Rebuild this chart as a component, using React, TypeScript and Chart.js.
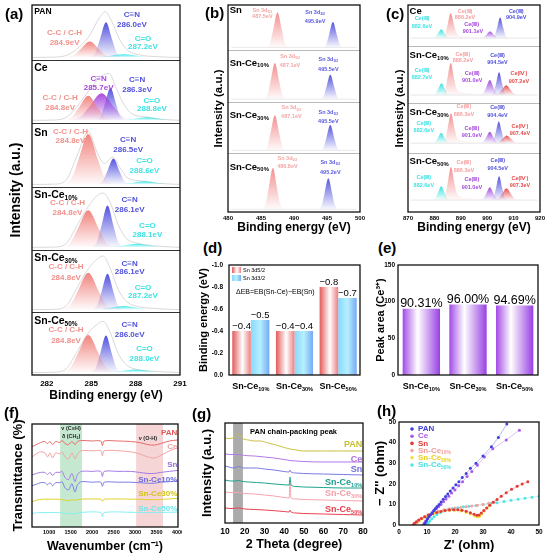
import { useEffect, useRef } from 'react';
import { Chart, registerables } from 'chart.js';

Chart.register(...registerables);

const F = "'Liberation Sans', Arial, Helvetica, sans-serif";

type P = number[][];
type Note = [string, number, number, string];

// ---------- (a) C 1s XPS ----------
const aNames = ['PAN', 'Ce', 'Sn', 'Sn-Ce_{10%}', 'Sn-Ce_{30%}', 'Sn-Ce_{50%}'];
const aTicks = [282, 285, 288, 291];
const aCC: P[] = [
  [[283.25, 0], [283.8, 0.035], [284.25, 0.13], [284.9, 0.26], [285.55, 0.13], [286.0, 0.035], [286.55, 0]],
  [[283.15, 0], [283.7, 0.054], [284.15, 0.2], [284.8, 0.4], [285.45, 0.2], [285.9, 0.054], [286.45, 0]],
  [[283.15, 0], [283.7, 0.11], [284.15, 0.41], [284.8, 0.82], [285.45, 0.41], [285.9, 0.11], [286.45, 0]],
  [[283.0, 0], [283.6, 0.08], [284.09, 0.3], [284.8, 0.6], [285.51, 0.3], [286.0, 0.08], [286.6, 0]],
  [[283.0, 0], [283.6, 0.08], [284.09, 0.3], [284.8, 0.6], [285.51, 0.3], [286.0, 0.08], [286.6, 0]],
  [[283.0, 0], [283.6, 0.082], [284.09, 0.305], [284.8, 0.61], [285.51, 0.305], [286.0, 0.082], [286.6, 0]],
];
const aCN: P[] = [
  [[284.92, 0], [285.28, 0.077], [285.58, 0.285], [286.0, 0.57], [286.42, 0.285], [286.72, 0.077], [287.08, 0]],
  [[285.34, 0], [285.66, 0.072], [285.92, 0.265], [286.3, 0.53], [286.68, 0.265], [286.94, 0.072], [287.26, 0]],
  [[285.42, 0], [285.78, 0.057], [286.08, 0.21], [286.5, 0.42], [286.92, 0.21], [287.22, 0.057], [287.58, 0]],
  [[285.02, 0], [285.38, 0.092], [285.68, 0.34], [286.1, 0.68], [286.52, 0.34], [286.82, 0.092], [287.18, 0]],
  [[285.08, 0], [285.42, 0.078], [285.7, 0.29], [286.1, 0.58], [286.5, 0.29], [286.78, 0.078], [287.12, 0]],
  [[284.98, 0], [285.32, 0.081], [285.6, 0.3], [286.0, 0.6], [286.4, 0.3], [286.68, 0.081], [287.02, 0]],
];
const aCNce: P = [[283.6, 0], [284.3, 0.06], [284.87, 0.22], [285.7, 0.44], [286.53, 0.22], [287.1, 0.06], [287.8, 0]];
const aCO: P[] = [
  [[284.8, 0], [285.6, 0.007], [286.25, 0.025], [287.2, 0.05], [288.15, 0.025], [288.8, 0.007], [289.6, 0]],
  [[286.7, 0], [287.4, 0.007], [287.97, 0.025], [288.8, 0.05], [289.63, 0.025], [290.2, 0.007], [290.9, 0]],
  [[286.5, 0], [287.2, 0.007], [287.77, 0.025], [288.6, 0.05], [289.43, 0.025], [290.0, 0.007], [290.7, 0]],
  [[285.85, 0], [286.6, 0.008], [287.2, 0.03], [288.1, 0.06], [289.0, 0.03], [289.6, 0.008], [290.35, 0]],
  [[284.8, 0], [285.6, 0.008], [286.25, 0.03], [287.2, 0.06], [288.15, 0.03], [288.8, 0.008], [289.6, 0]],
  [[285.75, 0], [286.5, 0.007], [287.1, 0.025], [288.0, 0.05], [288.9, 0.025], [289.5, 0.007], [290.25, 0]],
];
const aEnv: P[] = [
  [[281, 0], [282.5, 0.005], [283.4, 0.04], [284.2, 0.17], [284.9, 0.36], [285.5, 0.62], [285.95, 0.74], [286.4, 0.58], [286.9, 0.3], [287.5, 0.11], [288.3, 0.04], [289.3, 0.013], [291, 0]],
  [[281, 0], [282.5, 0.005], [283.4, 0.06], [284.2, 0.27], [284.9, 0.5], [285.6, 0.7], [286.2, 0.76], [286.7, 0.52], [287.2, 0.26], [287.8, 0.1], [288.7, 0.055], [289.6, 0.02], [291, 0]],
  [[281, 0], [282.5, 0.005], [283.3, 0.07], [284.1, 0.5], [284.8, 0.86], [285.4, 0.52], [285.9, 0.34], [286.45, 0.44], [286.95, 0.27], [287.5, 0.1], [288.5, 0.055], [289.5, 0.02], [291, 0]],
  [[281, 0], [282.5, 0.005], [283.3, 0.06], [284.1, 0.38], [284.8, 0.66], [285.4, 0.84], [285.8, 0.88], [286.3, 0.72], [286.8, 0.38], [287.4, 0.14], [288.1, 0.07], [289.2, 0.025], [291, 0]],
  [[281, 0], [282.5, 0.005], [283.3, 0.06], [284.1, 0.38], [284.8, 0.66], [285.4, 0.82], [285.8, 0.87], [286.3, 0.66], [286.8, 0.34], [287.4, 0.13], [288.2, 0.05], [289.2, 0.02], [291, 0]],
  [[281, 0], [282.5, 0.005], [283.3, 0.06], [284.1, 0.36], [284.8, 0.64], [285.4, 0.78], [285.8, 0.83], [286.3, 0.64], [286.8, 0.32], [287.4, 0.12], [288.1, 0.05], [289.2, 0.02], [291, 0]],
];
const aNotes: Note[][] = [
  [['C≡N', 287.75, 0.73, 'b'], ['286.0eV', 287.75, 0.57, 'b'], ['C-C / C-H', 283.2, 0.44, 'r'], ['284.9eV', 283.2, 0.27, 'r'], ['C=O', 288.5, 0.35, 'c'], ['287.2eV', 288.5, 0.21, 'c']],
  [['C≡N', 285.5, 0.72, 'p'], ['285.7eV', 285.5, 0.57, 'p'], ['C≡N', 288.1, 0.7, 'b'], ['286.3eV', 288.1, 0.54, 'b'], ['C-C / C-H', 282.9, 0.41, 'r'], ['284.8eV', 282.9, 0.25, 'r'], ['C=O', 289.1, 0.36, 'c'], ['288.8eV', 289.1, 0.22, 'c']],
  [['C-C / C-H', 283.6, 0.89, 'r'], ['284.8eV', 283.6, 0.74, 'r'], ['C≡N', 287.5, 0.77, 'b'], ['286.5eV', 287.5, 0.6, 'b'], ['C=O', 288.6, 0.42, 'c'], ['288.6eV', 288.6, 0.26, 'c']],
  [['C≡N', 287.6, 0.81, 'b'], ['286.1eV', 287.6, 0.65, 'b'], ['C-C / C-H', 283.4, 0.76, 'r'], ['284.8eV', 283.4, 0.6, 'r'], ['C=O', 288.8, 0.39, 'c'], ['288.1eV', 288.8, 0.24, 'c']],
  [['C≡N', 287.6, 0.79, 'b'], ['286.1eV', 287.6, 0.65, 'b'], ['C-C / C-H', 283.3, 0.73, 'r'], ['284.8eV', 283.3, 0.56, 'r'], ['C=O', 288.5, 0.4, 'c'], ['287.2eV', 288.5, 0.26, 'c']],
  [['C≡N', 287.6, 0.81, 'b'], ['286.0eV', 287.6, 0.65, 'b'], ['C-C / C-H', 283.3, 0.73, 'r'], ['284.8eV', 283.3, 0.56, 'r'], ['C=O', 288.6, 0.42, 'c'], ['288.0eV', 288.6, 0.27, 'c']],
];

// ---------- (b) Sn 3d XPS ----------
const bNames = ['Sn', 'Sn-Ce_{10%}', 'Sn-Ce_{30%}', 'Sn-Ce_{50%}'];
const bTicks = [480, 485, 490, 495, 500];
const b52: P[] = [
  [[485.85, 0], [486.4, 0.092], [486.85, 0.34], [487.5, 0.68], [488.15, 0.34], [488.6, 0.092], [489.15, 0]],
  [[485.45, 0], [486.0, 0.095], [486.45, 0.35], [487.1, 0.7], [487.75, 0.35], [488.2, 0.095], [488.75, 0]],
  [[485.45, 0], [486.0, 0.092], [486.45, 0.34], [487.1, 0.68], [487.75, 0.34], [488.2, 0.092], [488.75, 0]],
  [[485.15, 0], [485.7, 0.108], [486.15, 0.4], [486.8, 0.8], [487.45, 0.4], [487.9, 0.108], [488.45, 0]],
];
const b32: P[] = [
  [[494.4, 0], [494.9, 0.066], [495.31, 0.245], [495.9, 0.49], [496.49, 0.245], [496.9, 0.066], [497.4, 0]],
  [[494.0, 0], [494.5, 0.063], [494.91, 0.235], [495.5, 0.47], [496.09, 0.235], [496.5, 0.063], [497.0, 0]],
  [[494.0, 0], [494.5, 0.066], [494.91, 0.245], [495.5, 0.49], [496.09, 0.245], [496.5, 0.066], [497.0, 0]],
  [[493.7, 0], [494.2, 0.081], [494.61, 0.3], [495.2, 0.6], [495.79, 0.3], [496.2, 0.081], [496.7, 0]],
];
const bNotes: Note[][] = [
  [['Sn 3d_{5/2}', 485.2, 0.77, 'r'], ['487.5eV', 485.2, 0.64, 'r'], ['Sn 3d_{3/2}', 493.2, 0.73, 'b'], ['495.9eV', 493.2, 0.56, 'b']],
  [['Sn 3d_{5/2}', 489.4, 0.87, 'r'], ['487.1eV', 489.4, 0.7, 'r'], ['Sn 3d_{3/2}', 495.2, 0.81, 'b'], ['495.5eV', 495.2, 0.63, 'b']],
  [['Sn 3d_{5/2}', 489.6, 0.87, 'r'], ['487.1eV', 489.6, 0.7, 'r'], ['Sn 3d_{3/2}', 495.2, 0.79, 'b'], ['495.5eV', 495.2, 0.61, 'b']],
  [['Sn 3d_{5/2}', 489.0, 1.04, 'r'], ['486.8eV', 489.0, 0.87, 'r'], ['Sn 3d_{3/2}', 495.5, 0.95, 'b'], ['495.2eV', 495.5, 0.77, 'b']],
];

// ---------- (c) Ce 3d XPS ----------
const cNames = ['Ce', 'Sn-Ce_{10%}', 'Sn-Ce_{30%}', 'Sn-Ce_{50%}'];
const cTicks = [870, 880, 890, 900, 910, 920];
const cCyan: P[] = [
  [[879.3, 0], [880.4, 0.023], [881.3, 0.085], [882.6, 0.17], [883.9, 0.085], [884.8, 0.023], [885.9, 0]],
  [[879.4, 0], [880.5, 0.031], [881.4, 0.115], [882.7, 0.23], [884.0, 0.115], [884.9, 0.031], [886.0, 0]],
  [[879.3, 0], [880.4, 0.027], [881.3, 0.1], [882.6, 0.2], [883.9, 0.1], [884.8, 0.027], [885.9, 0]],
  [[879.3, 0], [880.4, 0.036], [881.3, 0.135], [882.6, 0.27], [883.9, 0.135], [884.8, 0.036], [885.9, 0]],
];
const cPink: P[] = [
  [[882.9, 0], [884.0, 0.065], [884.9, 0.24], [886.2, 0.48], [887.5, 0.24], [888.4, 0.096], [890.2, 0.048], [894.2, 0.024], [898.2, 0]],
  [[882.9, 0], [884.0, 0.084], [884.9, 0.31], [886.2, 0.62], [887.5, 0.31], [888.4, 0.124], [890.2, 0.062], [894.2, 0.031], [898.2, 0]],
  [[883.0, 0], [884.1, 0.078], [885.0, 0.29], [886.3, 0.58], [887.6, 0.29], [888.5, 0.116], [890.3, 0.058], [894.3, 0.029], [898.3, 0]],
  [[883.0, 0], [884.1, 0.086], [885.0, 0.32], [886.3, 0.64], [887.6, 0.32], [888.5, 0.128], [890.3, 0.064], [894.3, 0.032], [898.3, 0]],
];
const cPurple: P[] = [
  [[897.5, 0], [898.7, 0.018], [899.7, 0.065], [901.1, 0.13], [902.5, 0.065], [903.5, 0.018], [904.7, 0]],
  [[897.4, 0], [898.6, 0.039], [899.6, 0.145], [901.0, 0.29], [902.4, 0.145], [903.4, 0.039], [904.6, 0]],
  [[897.4, 0], [898.6, 0.03], [899.6, 0.11], [901.0, 0.22], [902.4, 0.11], [903.4, 0.03], [904.6, 0]],
  [[897.4, 0], [898.6, 0.034], [899.6, 0.125], [901.0, 0.25], [902.4, 0.125], [903.4, 0.034], [904.6, 0]],
];
const cBlue: P[] = [
  [[901.9, 0], [902.9, 0.054], [903.72, 0.2], [904.9, 0.4], [906.08, 0.2], [906.9, 0.054], [907.9, 0]],
  [[901.5, 0], [902.5, 0.059], [903.32, 0.22], [904.5, 0.44], [905.68, 0.22], [906.5, 0.059], [907.5, 0]],
  [[901.4, 0], [902.4, 0.057], [903.22, 0.21], [904.4, 0.42], [905.58, 0.21], [906.4, 0.057], [907.4, 0]],
  [[901.5, 0], [902.5, 0.062], [903.32, 0.23], [904.5, 0.46], [905.68, 0.23], [906.5, 0.062], [907.5, 0]],
];
const cIV: P[] = [
  [],
  [[902.7, 0], [904.2, 0.026], [905.43, 0.095], [907.2, 0.19], [908.97, 0.095], [910.2, 0.026], [911.7, 0]],
  [[902.9, 0], [904.4, 0.02], [905.63, 0.075], [907.4, 0.15], [909.17, 0.075], [910.4, 0.02], [911.9, 0]],
  [[902.8, 0], [904.3, 0.031], [905.53, 0.115], [907.3, 0.23], [909.07, 0.115], [910.3, 0.031], [911.8, 0]],
];
const cNotes: Note[][] = [
  [['Ce(Ⅲ)', 875.3, 0.53, 'c'], ['882.6eV', 875.3, 0.39, 'c'], ['Ce(Ⅲ)', 891.6, 0.68, 'r'], ['886.2eV', 891.6, 0.55, 'r'], ['Ce(Ⅲ)', 894.1, 0.42, 'p'], ['901.1eV', 894.6, 0.28, 'p'], ['Ce(Ⅲ)', 911, 0.68, 'b'], ['904.9eV', 911, 0.55, 'b']],
  [['Ce(Ⅲ)', 875.3, 0.63, 'c'], ['882.7eV', 875.3, 0.5, 'c'], ['Ce(Ⅲ)', 890.8, 0.95, 'r'], ['886.2eV', 890.8, 0.82, 'r'], ['Ce(Ⅲ)', 903.9, 0.92, 'b'], ['904.5eV', 903.9, 0.78, 'b'], ['Ce(Ⅲ)', 894.3, 0.58, 'p'], ['901.0eV', 894.3, 0.44, 'p'], ['Ce(Ⅳ)', 912, 0.57, 'e'], ['907.2eV', 912, 0.43, 'e']],
  [['Ce(Ⅲ)', 876, 0.58, 'c'], ['882.6eV', 876, 0.44, 'c'], ['Ce(Ⅲ)', 891.2, 0.89, 'r'], ['886.3eV', 891.2, 0.75, 'r'], ['Ce(Ⅲ)', 903.9, 0.87, 'b'], ['904.4eV', 903.9, 0.73, 'b'], ['Ce(Ⅲ)', 894.2, 0.48, 'p'], ['901.0eV', 894.2, 0.34, 'p'], ['Ce(Ⅳ)', 912.4, 0.52, 'e'], ['907.4eV', 912.4, 0.38, 'e']],
  [['Ce(Ⅲ)', 876, 0.66, 'c'], ['882.6eV', 876, 0.52, 'c'], ['Ce(Ⅲ)', 891.2, 0.95, 'r'], ['886.3eV', 891.2, 0.81, 'r'], ['Ce(Ⅲ)', 904, 0.99, 'b'], ['904.5eV', 904, 0.85, 'b'], ['Ce(Ⅲ)', 894.2, 0.62, 'p'], ['901.0eV', 894.2, 0.48, 'p'], ['Ce(Ⅳ)', 912.4, 0.65, 'e'], ['907.3eV', 912.4, 0.51, 'e']],
];

// ---------- (d) binding energy shift, (e) Ce3+ peak area ----------
const dCats = ['Sn-Ce_{10%}', 'Sn-Ce_{30%}', 'Sn-Ce_{50%}'];
const d52 = [-0.4, -0.4, -0.8];
const d32 = [-0.5, -0.4, -0.7];
const dTicks = [-1.0, -0.8, -0.6, -0.4, -0.2, 0.0];
const eArea = [90.31, 96.0, 94.69];
const eTicks = [0, 50, 100, 150];

// ---------- (f) FTIR ----------
const fNames = ['PAN', 'Ce', 'Sn', 'Sn-Ce10%', 'Sn-Ce30%', 'Sn-Ce50%'];
const fTicks = [1000, 1500, 2000, 2500, 3000, 3500, 4000];
const fPAN: P = [[600, 78], [700, 80], [800, 82], [900, 83], [960, 81], [1020, 83], [1080, 80], [1150, 83], [1250, 82], [1300, 84], [1370, 81], [1450, 80], [1530, 83], [1600, 80], [1660, 83], [1750, 84], [2000, 83.5], [2200, 83.5], [2240, 79], [2280, 83.5], [2600, 83.5], [2900, 83], [3100, 82], [3300, 80], [3450, 79.5], [3600, 81], [3800, 83.5], [4000, 84.5]];
const fCe: P = [[600, 68], [700, 71], [800, 73], [900, 72], [960, 68], [1020, 72], [1080, 67], [1150, 72], [1250, 71], [1300, 73], [1370, 68], [1450, 66], [1530, 72], [1600, 66], [1660, 71], [1750, 74], [2000, 74], [2200, 74], [2240, 69], [2280, 74], [2600, 74], [2900, 73], [3100, 71], [3300, 68], [3450, 67], [3600, 69.5], [3800, 74], [4000, 77]];
const fSn: P = [[600, 50.5], [700, 52], [800, 53], [900, 53], [960, 51], [1020, 53], [1080, 50], [1150, 53], [1250, 53], [1300, 54], [1370, 48], [1450, 46], [1530, 52], [1600, 44], [1660, 51], [1750, 54], [2000, 54], [2200, 54], [2240, 49], [2280, 54], [2600, 54], [2900, 54], [3100, 53], [3300, 52], [3450, 52], [3600, 53], [3800, 54], [4000, 55]];
const fSnCe10: P = [[600, 40], [700, 41.5], [800, 43], [900, 43], [960, 41], [1020, 43], [1080, 40], [1150, 43], [1250, 43], [1300, 44], [1370, 38], [1450, 36], [1530, 42], [1600, 34], [1660, 41], [1750, 44], [2000, 43.5], [2200, 43.5], [2240, 39.5], [2280, 43.5], [2600, 43.5], [2900, 43.5], [3100, 43], [3300, 42.5], [3450, 42.5], [3600, 43.5], [3800, 44], [4000, 44.6]];
const fSnCe30: P = [[600, 24.6], [700, 26], [850, 27], [1000, 27], [1200, 27], [1370, 26], [1450, 25.5], [1530, 26.5], [1600, 26], [1750, 27], [2200, 27], [2240, 25], [2280, 27], [3000, 27], [3400, 26.5], [4000, 27.8]];
const fSnCe50: P = [[600, 13.3], [800, 14], [1000, 14], [1200, 14], [1450, 13], [1600, 13], [1750, 14.2], [2200, 14.2], [2240, 10], [2280, 14.2], [3000, 14.2], [3400, 14], [4000, 14.5]];
const fSeries = [fPAN, fCe, fSn, fSnCe10, fSnCe30, fSnCe50];
const fLabelY = [91, 78, 60, 46, 32, 18];

// ---------- (g) XRD ----------
const gNames = ['PAN', 'Ce', 'Sn', 'Sn-Ce_{10%}', 'Sn-Ce_{30%}', 'Sn-Ce_{50%}'];
const gTicks = [10, 20, 30, 40, 50, 60, 70, 80];
const gPAN: P = [[10, 85], [12, 84.5], [14, 85], [15.5, 87], [16.8, 89], [18, 87], [19.5, 84], [22, 83], [25, 82], [28, 82], [32, 80], [36, 78], [40, 75.5], [43, 74], [46, 73], [50, 72], [60, 72], [70, 72], [80, 72]];
const gCe: P = [[10, 69], [13, 68.5], [17, 68.5], [20, 67.5], [25, 67], [30, 66], [35, 65], [40, 63.5], [43, 62.5], [46, 62], [50, 61.5], [60, 61], [70, 61], [80, 61]];
const gSn: P = [[10, 57], [12, 56], [14, 55], [16, 56], [17.5, 56.5], [19, 55], [22, 55], [26, 55], [30, 54], [35, 53], [40, 51.5], [42.5, 51], [43, 53], [43.5, 51], [46, 50], [50, 49.5], [60, 49], [70, 48.5], [80, 48]];
const gSnCe10: P = [[10, 43], [13, 42], [15, 42], [17, 42.5], [19, 41.5], [22, 41], [26, 40.5], [30, 40], [35, 39], [40, 38.2], [42.5, 38], [43, 46], [43.5, 38], [46, 36.5], [50, 36], [60, 35.5], [70, 35], [80, 35]];
const gSnCe30: P = [[10, 31], [13, 30.5], [17, 30.5], [20, 29.5], [25, 29], [30, 28], [35, 27], [40, 25.5], [42.5, 25], [43, 42], [43.5, 25], [46, 24], [50, 23.5], [60, 23], [70, 22.5], [80, 22]];
const gSnCe50: P = [[10, 15], [13, 14.5], [17, 15], [20, 14], [25, 13.5], [30, 13], [35, 12.3], [40, 11.5], [42.5, 11], [43, 13], [43.5, 11], [46, 10], [50, 9.5], [60, 9], [70, 8.5], [80, 8]];
const gSeries = [gPAN, gCe, gSn, gSnCe10, gSnCe30, gSnCe50];
const gLabelY = [78, 63.7, 53, 40.7, 29.7, 13];

// ---------- (h) EIS Nyquist ----------
const hNames = ['PAN', 'Ce', 'Sn', 'Sn-Ce_{10%}', 'Sn-Ce_{30%}', 'Sn-Ce_{50%}'];
const hTicks = [0, 10, 20, 30, 40, 50];
const hPAN: P = [[9, 0], [9.4, 1], [9.8, 2], [10.2, 3], [10.7, 4], [11.2, 5], [11.8, 6], [12.4, 7], [13, 8], [13.6, 9], [14.3, 10], [15, 11.2], [15.8, 12.5], [16.6, 13.8], [17.4, 15], [18.3, 16.5], [19.3, 18], [20.3, 19.5], [21.4, 21], [22.6, 23], [24, 25], [25.5, 27.5], [27.5, 30], [30, 33.5], [33, 38], [35.5, 42.5], [38.5, 49]];
const hCe: P = [[8.5, 0], [9, 1], [9.5, 2], [10.1, 3], [10.7, 4], [11.3, 5], [12, 6], [12.7, 7], [13.4, 8], [14.2, 9], [15, 10], [15.9, 11.3], [16.8, 12.6], [17.8, 14], [18.8, 15.5], [20, 17], [21.3, 19], [22.7, 21], [24.3, 23.5], [26, 26], [28, 29], [30.5, 33], [33.5, 37], [38.3, 41.3], [43, 46]];
const hSn: P = [[5, 0], [5.5, 0.8], [6.2, 1.6], [7, 2.4], [8, 3.2], [9.2, 4], [10.5, 4.8], [12, 5.5], [13.5, 6.1], [15, 6.6], [16.5, 7], [18, 7.3], [19.5, 7.4], [21, 7.4], [22.5, 7.2], [24, 6.7], [25.5, 6], [26.8, 5.2], [27.8, 4.7], [28.6, 4.8], [29.4, 5.8], [30.3, 7], [31.3, 8.3], [32.4, 9.6], [33.6, 11], [35, 12.4], [36.5, 13.9], [38.3, 15.6], [40.2, 17.3], [42.2, 18.8], [44, 19.9], [46, 21]];
const hSnCe10: P = [[5.5, 0], [6, 1], [6.8, 2], [7.8, 3], [9, 4], [10.4, 5], [12, 5.9], [14, 6.8], [16, 7.4], [18, 7.9], [20, 8.2], [22, 8.5], [24, 8.8], [26, 9.2], [28, 9.6], [30, 10], [32, 10.5], [34, 11]];
const hSnCe30: P = [[6, 0], [6.5, 1], [7.3, 2], [8.3, 3], [9.6, 4], [11, 5], [12.6, 5.8], [14.3, 6.4], [16, 6.9], [18, 7.1], [20, 7.1], [22, 6.8], [24, 6.1], [25.5, 5.3], [27, 4.4], [28, 3.9], [28.8, 4.2], [29.6, 5.3], [30.5, 6.8], [31.5, 8.3], [32.5, 9.6]];
const hSnCe50: P = [[10, 0], [10.5, 1], [11, 2], [11.7, 3], [12.5, 4], [13.5, 5], [14.7, 6], [16, 6.8], [17.5, 7.5], [19, 8], [21, 8.4], [23, 8.8], [25, 9.1], [27.5, 9.5], [30, 9.9], [32.5, 10.3], [35, 10.8], [37.5, 11.4], [40, 12], [42.5, 12.5], [45, 13], [47.5, 13.5], [50, 14]];
const hSeries = [hPAN, hCe, hSn, hSnCe10, hSnCe30, hSnCe50];

// ---------- styling / layout ----------
const NC: Record<string, string> = { r: '#f2918b', b: '#5050dc', c: '#3ee2e2', p: '#a648dc', e: '#e84b4b' };
const aRows = [5.11, 4.09, 3.05, 2.03, 1.02, 0];
const bRows = [3.13, 2.13, 1.14, 0];
const cRows = [3.2, 2.1, 1.14, 0];
const cLift = [0.16, 0.16, 0.19, 0.23];
const bNameY = [0.77, 0.75, 0.73, 0.87];
const cNameY = [0.67, 0.93, 0.79, 0.97];
const fLine = ['#e86a6a', '#f2a3a3', '#a47ae6', '#7b7be6', '#e0d12a', '#86eef0'];
const fText = ['#e05a5a', '#f0a0a0', '#9b6de0', '#6b6be0', '#d4c21c', '#6ee8ec'];
const gLine = ['#c8c040', '#b478e8', '#7a7ae6', '#1fa38e', '#f5a5ad', '#e8404f'];
const gText = ['#c8c030', '#b070e0', '#6e6ee0', '#20a090', '#f4a0a8', '#e84050'];
const hCol = ['#3f3fdc', '#a95ae6', '#e23a36', '#f5a3a3', '#f3df3c', '#52e6e6'];
const hText = ['#3f3fdc', '#a95ae6', '#e23a36', '#f29a9a', '#e8cf1c', '#45e0e0'];

function rgba(hex: string, a: number) {
  const n = parseInt(hex.slice(1), 16);
  return `rgba(${n >> 16},${(n >> 8) & 255},${n & 255},${a})`;
}

const ok = (...v: number[]) => v.every((n) => Number.isFinite(n));

// text with _{sub} and ^{sup} parts
function rich(ctx: CanvasRenderingContext2D, str: string, x: number, y: number, size: number, color: string, align = 'center', weight = 'bold') {
  if (!ok(x, y)) return;
  const parts: [string, number][] = [];
  const re = /([_^])\{([^}]*)\}/g;
  let last = 0;
  let m: RegExpExecArray | null;
  while ((m = re.exec(str))) {
    if (m.index > last) parts.push([str.slice(last, m.index), 0]);
    parts.push([m[2], m[1] === '_' ? 1 : 2]);
    last = re.lastIndex;
  }
  if (last < str.length) parts.push([str.slice(last), 0]);
  ctx.save();
  ctx.fillStyle = color;
  ctx.textBaseline = 'middle';
  ctx.textAlign = 'left';
  const fnt = (k: number) => `${weight} ${k ? size * 0.62 : size}px ${F}`;
  const ws = parts.map(([t, k]) => { ctx.font = fnt(k); return ctx.measureText(t).width; });
  const total = ws.reduce((s, w) => s + w, 0);
  let cx = align === 'left' ? x : align === 'right' ? x - total : x - total / 2;
  parts.forEach(([t, k], i) => {
    ctx.font = fnt(k);
    ctx.fillText(t, cx, y + (k === 1 ? size * 0.3 : k === 2 ? -size * 0.32 : 0));
    cx += ws[i];
  });
  ctx.restore();
}

function vgrad(hex: string) {
  return (c: any) => {
    const ys = c.chart && c.chart.scales ? c.chart.scales.y : null;
    const ds = c.dataset;
    if (!ys || !c.chart.chartArea || !ds) return rgba(hex, 0.5);
    const y0 = ys.getPixelForValue(ds.top);
    const y1 = ys.getPixelForValue(ds.base);
    if (!ok(y0, y1) || y0 === y1) return rgba(hex, 0.5);
    const g = c.chart.ctx.createLinearGradient(0, y0, 0, y1);
    g.addColorStop(0, rgba(hex, 0.95));
    g.addColorStop(1, rgba(hex, 0.03));
    return g;
  };
}

function hgrad(stops: [number, string][], cat: number, bar: number) {
  return (c: any) => {
    const chart = c.chart;
    const xs = chart && chart.scales ? chart.scales.x : null;
    if (!xs || c.dataIndex == null || !chart.chartArea) return stops[0][1];
    const n = chart.data.datasets.length;
    const size = (xs.width / chart.data.labels.length) * cat;
    const chunk = size / n;
    const w = chunk * bar;
    const mid = xs.getPixelForValue(c.dataIndex) - size / 2 + chunk * c.datasetIndex + chunk / 2;
    if (!ok(mid, w) || w <= 0) return stops[0][1];
    const g = chart.ctx.createLinearGradient(mid - w / 2, 0, mid + w / 2, 0);
    stops.forEach(([o, col]) => g.addColorStop(o, col));
    return g;
  };
}

const pts = (p: P, base = 0) => p.map(([x, y]) => ({ x, y: y + base }));

function peakDs(p: P, base: number, hex: string) {
  return {
    data: pts(p, base),
    top: base + Math.max(0, ...p.map((q) => q[1])),
    base,
    fill: { value: base },
    backgroundColor: vgrad(hex),
    borderColor: 'rgba(0,0,0,0)',
    borderWidth: 0,
    pointRadius: 0,
    pointBackgroundColor: 'rgba(0,0,0,0)',
    pointBorderColor: 'rgba(0,0,0,0)',
    cubicInterpolationMode: 'monotone',
  };
}

function lineDs(p: P, base: number, color: string, width: number) {
  return { data: pts(p, base), fill: false, borderColor: color, borderWidth: width, pointRadius: 0, cubicInterpolationMode: 'monotone' };
}

function xLin(min: number, max: number, ticks: number[], fit: number, kSize: number, kPad: number, title: string, tSize: number, tPad: number) {
  return {
    type: 'linear', min, max,
    afterFit: (s: any) => { s.height = fit; s.paddingLeft = 0; s.paddingRight = 0; },
    afterBuildTicks: (s: any) => { s.ticks = ticks.map((value) => ({ value })); },
    grid: { display: false, drawTicks: false },
    border: { display: false },
    ticks: { display: ticks.length > 0, autoSkip: false, maxRotation: 0, padding: kPad, color: '#000', font: { family: F, size: kSize, weight: 'bold' }, callback: (v: any) => String(v) },
    title: { display: !!title, text: title, color: '#000', font: { family: F, size: tSize, weight: 'bold' }, padding: { top: 0, bottom: tPad } },
  };
}

function yLin(min: number, max: number, ticks: number[], fit: number, kSize: number, kPad: number, title: string, tSize: number, tPad: number, fmt = (v: number) => String(v), extra: any = {}) {
  return {
    type: 'linear', min, max, ...extra,
    afterFit: (s: any) => { s.width = fit; s.paddingTop = 0; s.paddingBottom = 0; },
    afterBuildTicks: (s: any) => { s.ticks = ticks.map((value) => ({ value })); },
    grid: { display: false, drawTicks: false },
    border: { display: false },
    ticks: { display: ticks.length > 0, autoSkip: false, padding: kPad, color: '#000', font: { family: F, size: kSize, weight: 'bold' }, callback: (v: any) => fmt(Number(v)) },
    title: { display: !!title, text: title, color: '#000', font: { family: F, size: tSize, weight: 'bold' }, padding: { top: tPad, bottom: 0 } },
  };
}

function xCat(fit: number) {
  return {
    type: 'category',
    afterFit: (s: any) => { s.height = fit; s.paddingLeft = 0; s.paddingRight = 0; },
    grid: { display: false, drawTicks: false },
    border: { display: false },
    ticks: { display: false },
  };
}

function opts(top: number, right: number, scales: any) {
  return {
    animation: false, responsive: true, maintainAspectRatio: false, events: [],
    layout: { padding: { top, right, bottom: 0, left: 0 } },
    plugins: { legend: { display: false }, tooltip: { enabled: false } },
    scales,
  };
}

function deco(before: ((c: any) => void) | null, after: ((c: any) => void) | null) {
  return {
    id: 'deco',
    beforeDatasetsDraw: (c: any) => { if (before) before(c); },
    afterDatasetsDraw: (c: any) => { if (after) after(c); },
  };
}

function drawFrame(c: any, seps: number[] = [], sepColor = '#333', sepW = 1) {
  const { ctx, chartArea: a, scales } = c;
  ctx.save();
  ctx.strokeStyle = sepColor;
  ctx.lineWidth = sepW;
  seps.forEach((v) => {
    const y = Math.round(scales.y.getPixelForValue(v)) + 0.5;
    ctx.beginPath();
    ctx.moveTo(a.left, y);
    ctx.lineTo(a.right, y);
    ctx.stroke();
  });
  ctx.strokeStyle = '#111';
  ctx.lineWidth = 1.3;
  ctx.strokeRect(a.left, a.top, a.right - a.left, a.bottom - a.top);
  ctx.restore();
}

// ---------- panel builders ----------
function makeA() {
  const ds: any[] = [];
  aNames.forEach((_, i) => {
    const b = aRows[i] + 0.04;
    ds.push(peakDs(aCC[i], b, '#f07d78'));
    if (i === 1) ds.push(peakDs(aCNce, b, '#a43fdd'));
    ds.push(peakDs(aCN[i], b, '#4848dc'));
    ds.push(peakDs(aCO[i], b, '#2ee6e6'));
    ds.push(lineDs(aEnv[i], b, '#cfcfcf', 0.8));
  });
  return {
    type: 'line',
    data: { datasets: ds },
    options: opts(5, 10, {
      x: xLin(281, 291, aTicks, 31, 8, 4, 'Binding energy (eV)', 12, 2.8),
      y: yLin(0, 6, [], 32, 8, 0, 'Intensity (a.u.)', 14, 7.6),
    }),
    plugins: [deco(null, (c) => {
      const xs = c.scales.x;
      const ys = c.scales.y;
      aNames.forEach((n, i) => {
        rich(c.ctx, n, xs.getPixelForValue(281.15), ys.getPixelForValue(aRows[i] + (i === 0 ? 0.78 : 0.88)), i === 0 ? 8.5 : 10.5, '#000', 'left');
        aNotes[i].forEach(([t, x, y, k]) => rich(c.ctx, t, xs.getPixelForValue(x), ys.getPixelForValue(aRows[i] + y), 8, NC[k]));
      });
      drawFrame(c, aRows.slice(0, 5), '#333', 1);
    })],
  };
}

function makeB() {
  const ds: any[] = [];
  bNames.forEach((_, i) => {
    const b = bRows[i] + 0.05;
    ds.push(lineDs([[480.5, 0], [499.5, 0]], b, '#e4e4e4', 0.8));
    ds.push(peakDs(b52[i], b, '#f28a8a'));
    ds.push(peakDs(b32[i], b, '#4e4edc'));
  });
  return {
    type: 'line',
    data: { datasets: ds },
    options: opts(5, 5, {
      x: xLin(480, 500, bTicks, 26, 6, 3, 'Binding energy (eV)', 12, 2.8),
      y: yLin(0, 4, [], 23, 8, 0, 'Intensity (a.u.)', 11.5, 7),
    }),
    plugins: [deco(null, (c) => {
      const xs = c.scales.x;
      const ys = c.scales.y;
      bNames.forEach((n, i) => {
        rich(c.ctx, n, xs.getPixelForValue(480.25), ys.getPixelForValue(bRows[i] + bNameY[i]), 9.5, '#000', 'left');
        bNotes[i].forEach(([t, x, y, k]) => rich(c.ctx, t, xs.getPixelForValue(x), ys.getPixelForValue(bRows[i] + y), 5.5, k === 'r' ? '#f4a6a6' : '#5a5ae0'));
      });
      drawFrame(c, bRows.slice(0, 3), '#a8a8a8', 0.8);
    })],
  };
}

function makeC() {
  const ds: any[] = [];
  cNames.forEach((_, i) => {
    const b = cRows[i] + cLift[i];
    ds.push(lineDs([[871, 0], [919, 0]], b, '#e0e0e0', 0.8));
    ds.push(peakDs(cPink[i], b, '#f28a8a'));
    ds.push(peakDs(cCyan[i], b, '#30e0e0'));
    ds.push(peakDs(cPurple[i], b, '#9d45dc'));
    ds.push(peakDs(cBlue[i], b, '#4a4ad8'));
    if (cIV[i].length) ds.push(peakDs(cIV[i], b, '#e84848'));
  });
  return {
    type: 'line',
    data: { datasets: ds },
    options: opts(5, 10, {
      x: xLin(870, 920, cTicks, 26, 6, 3, 'Binding energy (eV)', 12, 2.8),
      y: yLin(0, 4, [], 26, 8, 0, 'Intensity (a.u.)', 11.5, 11),
    }),
    plugins: [deco(null, (c) => {
      const xs = c.scales.x;
      const ys = c.scales.y;
      cNames.forEach((n, i) => {
        rich(c.ctx, n, xs.getPixelForValue(870.6), ys.getPixelForValue(cRows[i] + cNameY[i]), 9.5, '#000', 'left');
        cNotes[i].forEach(([t, x, y, k]) => rich(c.ctx, t, xs.getPixelForValue(x), ys.getPixelForValue(cRows[i] + y), 5.5, k === 'r' ? '#f4a0a0' : NC[k]));
      });
      drawFrame(c, cRows.slice(0, 3), '#a8a8a8', 0.8);
    })],
  };
}

const RED_BAR: [number, string][] = [[0, '#e25a5a'], [0.55, '#ffffff'], [1, '#ee8080']];
const BLUE_BAR: [number, string][] = [[0, '#88d8ff'], [0.5, '#b6f0ff'], [1, '#76aaf4']];
const PURPLE_BAR: [number, string][] = [[0, '#a24ae6'], [0.4, '#ffffff'], [1, '#9840e2']];

function catLabels(c: any, cats: string[]) {
  const xs = c.scales.x;
  cats.forEach((t, i) => rich(c.ctx, t, xs.getPixelForValue(i), c.chartArea.bottom + 12, 9, '#000'));
}

function makeD() {
  return {
    type: 'bar',
    data: {
      labels: dCats,
      datasets: [
        { data: d52, backgroundColor: hgrad(RED_BAR, 0.85, 1), borderWidth: 0, categoryPercentage: 0.85, barPercentage: 1 },
        { data: d32, backgroundColor: hgrad(BLUE_BAR, 0.85, 1), borderWidth: 0, categoryPercentage: 0.85, barPercentage: 1 },
      ],
    },
    options: opts(7, 5, {
      x: xCat(20),
      y: yLin(-1, 0, dTicks, 39, 6.5, 6, 'Binding energy (eV)', 11, 6.9, (v) => v.toFixed(1), { reverse: true }),
    }),
    plugins: [deco(null, (c) => {
      const { ctx, chartArea: a } = c;
      [d52, d32].forEach((vals, di) => {
        c.getDatasetMeta(di).data.forEach((el: any, i: number) => {
          ctx.save();
          ctx.font = `9.5px ${F}`;
          ctx.fillStyle = '#000';
          ctx.textAlign = 'center';
          ctx.textBaseline = 'bottom';
          ctx.fillText('−' + Math.abs(vals[i]).toFixed(1), el.x, el.y);
          ctx.restore();
        });
      });
      catLabels(c, dCats);
      [['Sn 3d5/2', RED_BAR], ['Sn 3d3/2', BLUE_BAR]].forEach(([t, st]: any, i) => {
        const y = a.top + 5 + i * 8;
        const g = ctx.createLinearGradient(a.left + 3, 0, a.left + 12, 0);
        st.forEach(([o, col]: any) => g.addColorStop(o, col));
        ctx.fillStyle = g;
        ctx.fillRect(a.left + 3, y - 3, 9, 6);
        rich(ctx, t, a.left + 14, y, 5.5, '#000', 'left', 'normal');
      });
      rich(ctx, 'ΔEB=EB(Sn-Ce)−EB(Sn)', a.left + 7, c.scales.y.getPixelForValue(-0.75), 7, '#000', 'left', 'normal');
      drawFrame(c);
    })],
  };
}

function makeE() {
  return {
    type: 'bar',
    data: {
      labels: dCats,
      datasets: [{ data: eArea, backgroundColor: hgrad(PURPLE_BAR, 1, 0.8), borderWidth: 0, categoryPercentage: 1, barPercentage: 0.8 }],
    },
    options: opts(7, 12, {
      x: xCat(20),
      y: yLin(0, 150, eTicks, 30, 6.5, 3, 'Peak area (Ce³⁺)', 11, 6.4),
    }),
    plugins: [deco(null, (c) => {
      const { ctx } = c;
      c.getDatasetMeta(0).data.forEach((el: any, i: number) => {
        ctx.save();
        ctx.font = `12.5px ${F}`;
        ctx.fillStyle = '#000';
        ctx.textAlign = 'center';
        ctx.textBaseline = 'bottom';
        ctx.fillText(eArea[i].toFixed(2) + '%', el.x, el.y + 1);
        ctx.restore();
      });
      catLabels(c, dCats);
      drawFrame(c);
    })],
  };
}

function makeF() {
  return {
    type: 'line',
    data: { datasets: fSeries.map((s, i) => ({ ...lineDs(s, 0, fLine[i], 1), cubicInterpolationMode: 'default', tension: 0.3 })) },
    options: opts(6, 4, {
      x: xLin(600, 4000, fTicks, 29, 5.5, 2, 'Wavenumber (cm⁻¹)', 12.5, 1.5),
      y: yLin(0, 100, [], 32, 8, 0, 'Transmittance (%)', 13, 10.2),
    }),
    plugins: [deco((c) => {
      const { ctx, chartArea: a, scales } = c;
      const band = (x0: number, x1: number, col: string) => {
        const l = scales.x.getPixelForValue(x0);
        ctx.fillStyle = col;
        ctx.fillRect(l, a.top, scales.x.getPixelForValue(x1) - l, a.bottom - a.top);
      };
      band(1255, 1765, 'rgba(150,215,170,0.55)');
      band(3025, 3650, 'rgba(236,178,178,0.55)');
    }, (c) => {
      const xs = c.scales.x;
      const ys = c.scales.y;
      rich(c.ctx, 'ν (C≡H)', xs.getPixelForValue(1510), ys.getPixelForValue(96), 5.5, '#222');
      rich(c.ctx, 'δ (CH_{2})', xs.getPixelForValue(1510), ys.getPixelForValue(88), 5.5, '#222');
      rich(c.ctx, 'ν (O-H)', xs.getPixelForValue(3300), ys.getPixelForValue(86), 5.5, '#222');
      fNames.forEach((n, i) => rich(c.ctx, n, xs.getPixelForValue(3985), ys.getPixelForValue(fLabelY[i]), 8, fText[i], 'right'));
      drawFrame(c);
    })],
  };
}

function makeG() {
  return {
    type: 'line',
    data: { datasets: gSeries.map((s, i) => lineDs(s, 0, gLine[i], 1)) },
    options: opts(5, 5, {
      x: xLin(10, 80, gTicks, 33, 8.5, 4, '2 Theta (degree)', 12.5, 3.5),
      y: yLin(0, 100, [], 35, 8, 0, 'Intensity (a.u.)', 13, 9.7),
    }),
    plugins: [deco((c) => {
      const { ctx, chartArea: a, scales } = c;
      const l = scales.x.getPixelForValue(14.1);
      ctx.fillStyle = 'rgba(150,150,150,0.8)';
      ctx.fillRect(l, a.top, scales.x.getPixelForValue(19.1) - l, a.bottom - a.top);
    }, (c) => {
      const xs = c.scales.x;
      const ys = c.scales.y;
      rich(c.ctx, 'PAN chain-packing peak', xs.getPixelForValue(22.7), ys.getPixelForValue(91), 7.5, '#000', 'left');
      gNames.forEach((n, i) => rich(c.ctx, n, xs.getPixelForValue(79.6), ys.getPixelForValue(gLabelY[i]), 9, gText[i], 'right'));
      drawFrame(c);
    })],
  };
}

function makeH() {
  return {
    type: 'line',
    data: {
      datasets: hSeries.map((s, i) => ({
        data: pts(s), fill: false, borderColor: rgba(hCol[i], 0.45), borderWidth: 0.8, tension: 0,
        pointRadius: 1.5, pointBackgroundColor: hCol[i], pointBorderWidth: 0,
      })),
    },
    options: opts(7, 11, {
      x: xLin(0, 50, hTicks, 31, 6.5, 3, "Z' (ohm)", 13, 3.2),
      y: yLin(0, 50, hTicks, 31, 6.5, 3, "− Z'' (ohm)", 13, 4.2),
    }),
    plugins: [deco(null, (c) => {
      const { ctx, chartArea: a } = c;
      hNames.forEach((n, i) => {
        const y = a.top + 7 + i * 7.2;
        ctx.fillStyle = hCol[i];
        ctx.beginPath();
        ctx.arc(a.left + 13, y, 1.8, 0, Math.PI * 2);
        ctx.fill();
        rich(ctx, n, a.left + 19, y, 8, hText[i], 'left');
      });
      drawFrame(c);
    })],
  };
}

function ChartBox({ box, make }: { box: number[]; make: () => any }) {
  const ref = useRef<HTMLCanvasElement>(null);
  useEffect(() => {
    if (!ref.current) return;
    let chart: Chart | null = null;
    try {
      chart = new Chart(ref.current, make());
    } catch (err) {
      console.error(err);
    }
    return () => { if (chart) chart.destroy(); };
  }, [make]);
  const [left, top, width, height] = box;
  return (
    <div style={{ position: 'absolute', left, top, width, height }}>
      <canvas ref={ref} />
    </div>
  );
}

const letters: [string, number, number][] = [
  ['(a)', 5, 6], ['(b)', 205, 5], ['(c)', 386, 6], ['(d)', 203, 240],
  ['(e)', 378, 240], ['(f)', 4, 405], ['(g)', 192, 406], ['(h)', 377, 403],
];

export default function App() {
  return (
    <div style={{ position: 'absolute', left: 0, top: 0, width: 550, height: 556, background: '#fff', overflow: 'hidden' }}>
      <ChartBox box={[0, 0, 190, 406]} make={makeA} />
      <ChartBox box={[205, 0, 160, 238]} make={makeB} />
      <ChartBox box={[382, 0, 168, 238]} make={makeC} />
      <ChartBox box={[190, 258, 175, 137]} make={makeD} />
      <ChartBox box={[368, 258, 182, 137]} make={makeE} />
      <ChartBox box={[0, 418, 182, 138]} make={makeF} />
      <ChartBox box={[190, 418, 178, 138]} make={makeG} />
      <ChartBox box={[368, 415, 182, 141]} make={makeH} />
      {letters.map(([t, x, y]) => (
        <div key={t} style={{ position: 'absolute', left: x, top: y, font: `bold 15px ${F}`, lineHeight: '15px', color: '#000' }}>{t}</div>
      ))}
    </div>
  );
}
